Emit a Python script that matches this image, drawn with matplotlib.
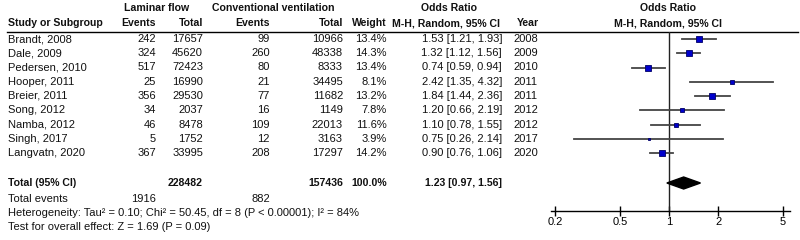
import matplotlib
matplotlib.use("Agg")
import matplotlib.pyplot as plt

plt.rcParams['font.family'] = ['Liberation Sans', 'DejaVu Sans']

# study data
studies = ["Brandt, 2008", "Dale, 2009", "Pedersen, 2010", "Hooper, 2011", "Breier, 2011",
           "Song, 2012", "Namba, 2012", "Singh, 2017", "Langvatn, 2020"]
lam_events = [242, 324, 517, 25, 356, 34, 46, 5, 367]
lam_total = [17657, 45620, 72423, 16990, 29530, 2037, 8478, 1752, 33995]
conv_events = [99, 260, 80, 21, 77, 16, 109, 12, 208]
conv_total = [10966, 48338, 8333, 34495, 11682, 1149, 22013, 3163, 17297]
weights = [13.4, 14.3, 13.4, 8.1, 13.2, 7.8, 11.6, 3.9, 14.2]
or_val = [1.53, 1.32, 0.74, 2.42, 1.84, 1.20, 1.10, 0.75, 0.90]
ci_lo = [1.21, 1.12, 0.59, 1.35, 1.44, 0.66, 0.78, 0.26, 0.76]
ci_hi = [1.93, 1.56, 0.94, 4.32, 2.36, 2.19, 1.55, 2.14, 1.06]
years = [2008, 2009, 2010, 2011, 2011, 2012, 2012, 2017, 2020]

# pooled result
tot_lam_events, tot_lam_total = 1916, 228482
tot_conv_events, tot_conv_total = 882, 157436
pooled = (1.23, 0.97, 1.56)
het_text = "Heterogeneity: Tau\u00b2 = 0.10; Chi\u00b2 = 50.45, df = 8 (P < 0.00001); I\u00b2 = 84%"
overall_text = "Test for overall effect: Z = 1.69 (P = 0.09)"
xticks = [0.2, 0.5, 1, 2, 5]

fs = 8.0
fs_b = 7.6
fig = plt.figure(figsize=(8, 2.4), dpi=100)

# text layer in pixel coordinates
ax = fig.add_axes([0, 0, 1, 1])
ax.set_xlim(0, 800)
ax.set_ylim(240, 0)
ax.axis('off')

def t(x, y, s, ha='left', bold=False):
    ax.text(x, y, s, ha=ha, va='center', fontsize=fs_b if bold else fs,
            fontweight='bold' if bold else 'normal', color='#111111')

# headers
t(157, 8, "Laminar flow", 'center', True)
t(273, 8, "Conventional ventilation", 'center', True)
t(449, 8, "Odds Ratio", 'center', True)
t(668, 8, "Odds Ratio", 'center', True)
t(8, 23, "Study or Subgroup", bold=True)
t(156, 23, "Events", 'right', True)
t(203, 23, "Total", 'right', True)
t(270, 23, "Events", 'right', True)
t(343, 23, "Total", 'right', True)
t(387, 23, "Weight", 'right', True)
t(500, 23, "M-H, Random, 95% CI", 'right', True)
t(517, 23, "Year", bold=True)
t(668, 23, "M-H, Random, 95% CI", 'center', True)
ax.plot([7, 798], [32, 32], color='black', lw=1)

rows = [39 + 14.25 * i for i in range(len(studies))]
for i, y in enumerate(rows):
    t(8, y, studies[i])
    t(156, y, str(lam_events[i]), 'right')
    t(203, y, str(lam_total[i]), 'right')
    t(270, y, str(conv_events[i]), 'right')
    t(343, y, str(conv_total[i]), 'right')
    t(387, y, "%.1f%%" % weights[i], 'right')
    t(502, y, "%.2f [%.2f, %.2f]" % (or_val[i], ci_lo[i], ci_hi[i]), 'right')
    t(513, y, str(years[i]))

t(8, 183, "Total (95% CI)", bold=True)
t(203, 183, str(tot_lam_total), 'right', True)
t(343, 183, str(tot_conv_total), 'right', True)
t(387, 183, "100.0%", 'right', True)
t(502, 183, "%.2f [%.2f, %.2f]" % pooled, 'right', True)
t(8, 199, "Total events")
t(156, 199, str(tot_lam_events), 'right')
t(270, 199, str(tot_conv_events), 'right')
t(8, 213, het_text)
t(8, 227, overall_text)

# forest panel
ax2 = fig.add_axes([551 / 800, (240 - 211) / 240, (790 - 551) / 800, (211 - 32) / 240])
ax2.patch.set_alpha(0)
ax2.set_xscale('log')
ax2.set_xlim(10 ** ((551 - 669) / 163), 10 ** ((790 - 669) / 163))
ax2.set_ylim(211, 32)
for s in ['top', 'left', 'right']:
    ax2.spines[s].set_visible(False)
ax2.spines['bottom'].set_linewidth(1)
ax2.set_yticks([])
ax2.set_xticks(xticks)
ax2.set_xticklabels([str(v) for v in xticks])
ax2.minorticks_off()
ax2.tick_params(axis='x', direction='inout', length=7, width=1, labelsize=fs, pad=1)
ax2.axvline(1, color='#222222', lw=1)

for i, y in enumerate(rows):
    ax2.plot([ci_lo[i], ci_hi[i]], [y, y], color='#444444', lw=1.3, zorder=2)
    side = 1.4 * weights[i] ** 0.5
    ax2.plot(or_val[i], y, marker='s', markersize=side * 0.72, color='#0000CC',
             markeredgecolor='#000066', markeredgewidth=0.6, zorder=3)

est, lo, hi = pooled
ax2.fill([lo, est, hi, est], [183, 177, 183, 189], color='black', zorder=3)

plt.savefig("out.png", dpi=100)
